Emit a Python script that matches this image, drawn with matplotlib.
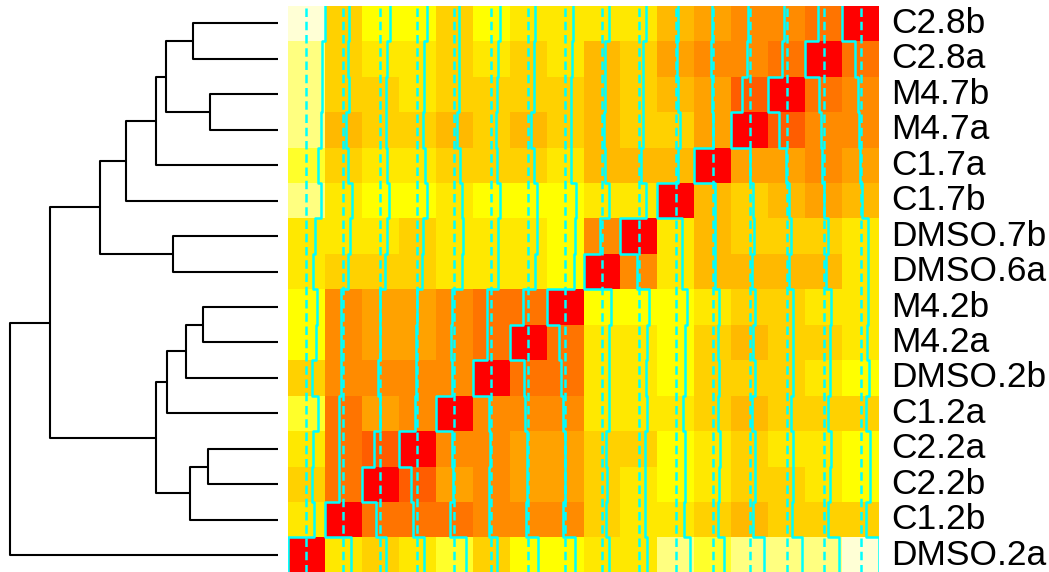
import numpy as np
import matplotlib
matplotlib.use("Agg")
import matplotlib.pyplot as plt
from matplotlib.colors import ListedColormap, BoundaryNorm, hsv_to_rgb


# Sample names, rows from top to bottom (columns are the same, left to right reversed)
samples = ["C2.8b", "C2.8a", "M4.7b", "M4.7a", "C1.7a", "C1.7b", "DMSO.7b", "DMSO.6a",
           "M4.2b", "M4.2a", "DMSO.2b", "C1.2a", "C2.2a", "C2.2b", "C1.2b", "DMSO.2a"]

# Distance matrix, rows top to bottom, columns left to right
dist = [
    [1.00, 0.66, 0.76, 0.75, 0.64, 0.74, 0.68, 0.71, 0.69, 0.70, 0.55, 0.48, 0.45, 0.44, 0.35, 0.00],
    [0.92, 0.63, 0.67, 0.69, 0.62, 0.68, 0.66, 0.69, 0.57, 0.61, 0.52, 0.45, 0.43, 0.38, 0.00, 0.35],
    [0.91, 0.64, 0.66, 0.68, 0.62, 0.66, 0.66, 0.66, 0.57, 0.61, 0.56, 0.47, 0.29, 0.00, 0.38, 0.44],
    [0.90, 0.58, 0.64, 0.65, 0.57, 0.64, 0.59, 0.65, 0.56, 0.61, 0.60, 0.50, 0.00, 0.29, 0.43, 0.45],
    [0.80, 0.63, 0.67, 0.70, 0.65, 0.66, 0.65, 0.67, 0.57, 0.57, 0.55, 0.00, 0.50, 0.47, 0.45, 0.48],
    [0.88, 0.72, 0.74, 0.75, 0.70, 0.75, 0.75, 0.79, 0.68, 0.68, 0.00, 0.55, 0.60, 0.56, 0.52, 0.55],
    [0.72, 0.67, 0.67, 0.66, 0.73, 0.69, 0.73, 0.76, 0.45, 0.00, 0.68, 0.57, 0.61, 0.61, 0.61, 0.70],
    [0.69, 0.62, 0.63, 0.62, 0.70, 0.68, 0.70, 0.74, 0.00, 0.45, 0.68, 0.57, 0.56, 0.57, 0.57, 0.69],
    [0.78, 0.445, 0.50, 0.49, 0.45, 0.39, 0.35, 0.00, 0.74, 0.76, 0.79, 0.67, 0.65, 0.66, 0.69, 0.71],
    [0.77, 0.44, 0.48, 0.47, 0.42, 0.38, 0.00, 0.35, 0.70, 0.73, 0.75, 0.65, 0.59, 0.66, 0.66, 0.68],
    [0.645, 0.44, 0.45, 0.46, 0.45, 0.00, 0.38, 0.39, 0.68, 0.69, 0.75, 0.66, 0.64, 0.66, 0.68, 0.74],
    [0.81, 0.39, 0.48, 0.45, 0.00, 0.45, 0.42, 0.45, 0.70, 0.73, 0.70, 0.65, 0.57, 0.62, 0.62, 0.64],
    [0.69, 0.38, 0.32, 0.00, 0.45, 0.46, 0.47, 0.49, 0.62, 0.66, 0.75, 0.70, 0.65, 0.68, 0.69, 0.75],
    [0.64, 0.37, 0.00, 0.32, 0.48, 0.45, 0.48, 0.50, 0.63, 0.67, 0.74, 0.67, 0.64, 0.66, 0.67, 0.76],
    [0.70, 0.00, 0.37, 0.38, 0.39, 0.44, 0.44, 0.445, 0.62, 0.67, 0.72, 0.63, 0.58, 0.64, 0.63, 0.66],
    [0.00, 0.70, 0.64, 0.69, 0.81, 0.645, 0.77, 0.78, 0.69, 0.72, 0.88, 0.80, 0.90, 0.91, 0.92, 1.00],
]

# Row dendrogram: leaves 0..15 counted from the bottom row, merge k gets id 16 + k
merge_left = [12, 2, 6, 14, 1, 5, 8, 4, 16, 11, 20, 10, 22, 26, 0]
merge_right = [13, 3, 7, 15, 17, 18, 9, 21, 19, 24, 23, 25, 27, 28, 29]
merge_height = [0.254, 0.261, 0.279, 0.317, 0.330, 0.344, 0.393, 0.413, 0.419,
                0.455, 0.456, 0.568, 0.663, 0.852, 1.0]


def heat_colors(n):
    # same as R's heat.colors(n)
    j = n // 4
    i = n - j
    cols = [hsv_to_rgb((h, 1, 1)) for h in np.linspace(0, 1 / 6, i)]
    if j > 0:
        for s in np.linspace(1 - 1 / (2 * j), 1 / (2 * j), j):
            cols.append(hsv_to_rgb((1 / 6, s, 1)))
    return cols


W, H = 1049, 572
fig = plt.figure(figsize=(W / 100, H / 100), dpi=100)

top_px = 5.7
row_h = 35.45
n = len(samples)
hm_bottom = (H - (top_px + n * row_h)) / H
hm_height = n * row_h / H

# heatmap
ax = fig.add_axes([288 / W, hm_bottom, 591 / W, hm_height])
Z = np.array(dist)[::-1]  # row 0 at the bottom
lo, hi = Z.min(), Z.max()
breaks = np.linspace(lo, hi, 16)
cmap = ListedColormap(heat_colors(len(breaks) - 1))
norm = BoundaryNorm(breaks, cmap.N)
ax.pcolormesh(np.arange(n + 1), np.arange(n + 1), Z, cmap=cmap, norm=norm)

# column traces
vline = (np.median(breaks) - lo) / (hi - lo)
for c in range(n):
    v = (Z[:, c] - lo) / (hi - lo)
    ax.axvline(c + vline, color="#00FFFF", lw=1.8, linestyle=(0, (3.4, 1.9)))
    xs = c + np.repeat(v, 2)
    ys = np.repeat(np.arange(n + 1), 2)[1:-1]
    ax.plot(xs, ys, color="#00FFFF", lw=1.8)

ax.set_xlim(0, n)
ax.set_ylim(0, n)
ax.axis("off")

for r, name in enumerate(samples):
    ax.text(n + 0.32, n - r - 0.5, name, ha="left", va="center",
            fontsize=25.5, family="Liberation Sans")

# row dendrogram
dax = fig.add_axes([10 / W, hm_bottom, 268 / W, hm_height])
pos = {k: k + 0.5 for k in range(n)}
hgt = {k: 0.0 for k in range(n)}
for k, (a, b, h) in enumerate(zip(merge_left, merge_right, merge_height)):
    node = n + k
    xs = [hgt[a], h, h, hgt[b]]
    ys = [pos[a], pos[a], pos[b], pos[b]]
    dax.plot(xs, ys, color="black", lw=1.5, clip_on=False, solid_capstyle="butt")
    pos[node] = (pos[a] + pos[b]) / 2
    hgt[node] = h
dax.set_xlim(max(merge_height), 0)
dax.set_ylim(0, n)
dax.axis("off")

fig.savefig("out.png", dpi=100)
